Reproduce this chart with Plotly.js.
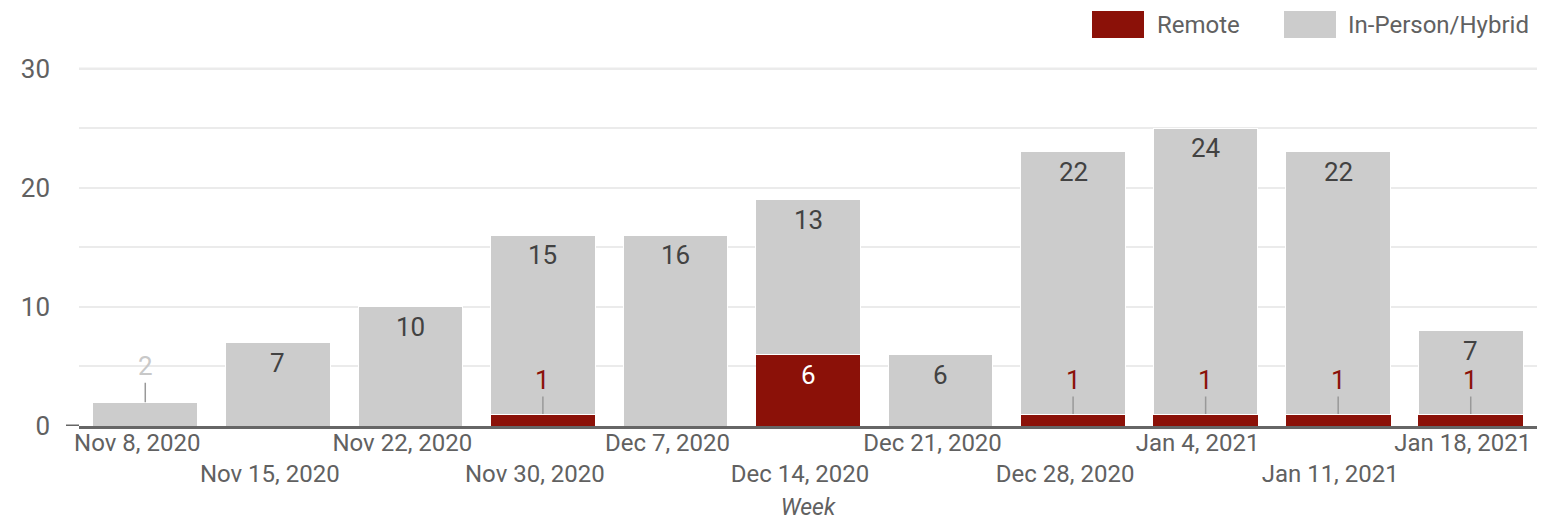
<!DOCTYPE html>
<html>
<head>
<meta charset="utf-8">
<script src="https://cdn.plot.ly/plotly-3.0.1.min.js"></script>
<style>html,body{margin:0;padding:0;background:#fff;}#chart{width:1546px;height:521px;}</style>
</head>
<body>
<div id="chart"></div>
<script>
const weeks = ['Nov 8, 2020','Nov 15, 2020','Nov 22, 2020','Nov 30, 2020','Dec 7, 2020','Dec 14, 2020','Dec 21, 2020','Dec 28, 2020','Jan 4, 2021','Jan 11, 2021','Jan 18, 2021'];
const remote = [0,0,0,1,0,6,0,1,1,1,1];
const inPerson = [2,7,10,15,16,13,6,22,24,22,7];
const seriesNames = ['Remote','In-Person/Hybrid'];
const yTicks = [0,10,20,30];

const REMOTE_COLOR = '#8b1108';
const INPERSON_COLOR = '#cccccc';
const FONT = 'Roboto, "Noto Sans", sans-serif';

const traces = [
  {type:'bar', name:seriesNames[0], x:weeks, y:remote, marker:{color:REMOTE_COLOR, line:{width:0}}, hoverinfo:'none', showlegend:false},
  {type:'bar', name:seriesNames[1], x:weeks, y:inPerson, marker:{color:INPERSON_COLOR, line:{color:'#ffffff', width:1}}, hoverinfo:'none', showlegend:false}
];

const annotations = [];
weeks.forEach((w,i) => {
  const r = remote[i], p = inPerson[i];
  if (r > 0) {
    if (r >= 3) {
      annotations.push({x:w, y:r, xref:'x', yref:'y', text:String(r), showarrow:false, yanchor:'top', yshift:-3, font:{family:FONT, size:26, color:'#ffffff'}});
    } else {
      annotations.push({x:w, y:r, xref:'x', yref:'y', text:String(r), showarrow:true, arrowhead:0, arrowwidth:1.5, arrowcolor:'#999999', ax:0, ay:-34, standoff:0, font:{family:FONT, size:26, color:REMOTE_COLOR}});
    }
  }
  if (p > 0) {
    const top = r + p;
    if (p >= 3) {
      annotations.push({x:w, y:top, xref:'x', yref:'y', text:String(p), showarrow:false, yanchor:'top', yshift:-3, font:{family:FONT, size:26, color:'#424242'}});
    } else {
      annotations.push({x:w, y:top, xref:'x', yref:'y', text:String(p), showarrow:true, arrowhead:0, arrowwidth:1.5, arrowcolor:'#999999', ax:0, ay:-36, standoff:0, font:{family:FONT, size:26, color:'#c8c8c8'}});
    }
  }
});

// custom legend (top right)
const legendItems = [
  {name:seriesNames[0], color:REMOTE_COLOR, sx:-445, tx:-382},
  {name:seriesNames[1], color:INPERSON_COLOR, sx:-253, tx:-191}
];
const shapes = [];
legendItems.forEach(it => {
  shapes.push({type:'rect', xref:'paper', yref:'paper', xsizemode:'pixel', ysizemode:'pixel', xanchor:1, yanchor:1,
    x0:it.sx, x1:it.sx+52, y0:27, y1:54, fillcolor:it.color, line:{width:0}});
  annotations.push({xref:'paper', yref:'paper', x:1, y:1, xshift:it.tx, yshift:40, xanchor:'left', yanchor:'middle', showarrow:false,
    text:it.name, font:{family:FONT, size:24, color:'#616161'}});
});
// baseline extends slightly left of the plot area
shapes.push({type:'line', xref:'paper', yref:'y', xsizemode:'pixel', xanchor:0, x0:-13, x1:0, y0:0, y1:0, line:{color:'#666666', width:3}});
// top gridline at the last tick
shapes.push({type:'line', xref:'paper', yref:'y', x0:0, x1:1, y0:yTicks[yTicks.length-1], y1:yTicks[yTicks.length-1], line:{color:'#ebebeb', width:2}, layer:'below'});

const layout = {
  width:1546, height:521,
  margin:{l:79, r:9, t:65, b:95, pad:0},
  paper_bgcolor:'#ffffff', plot_bgcolor:'#ffffff',
  barmode:'stack', bargap:0.21,
  font:{family:FONT, color:'#616161'},
  xaxis:{
    type:'category',
    tickvals:weeks,
    ticktext:weeks.map((w,i) => i % 2 ? '<br>' + w : w),
    tickfont:{family:FONT, size:24, color:'#616161'},
    tickangle:0,
    ticks:'', showgrid:false, zeroline:false,
    showline:true, linecolor:'#666666', linewidth:3,
    ticklabelshift:-8,
    ticklabelstandoff:-7,
    automargin:false,
    title:{text:'<i>Week</i>', font:{family:FONT, size:23, color:'#616161'}, standoff:14}
  },
  yaxis:{
    range:[0,30.3],
    tickvals:yTicks, ticktext:yTicks.map(String),
    tickfont:{family:FONT, size:26, color:'#616161'},
    ticks:'', ticklabelstandoff:28,
    showgrid:true, gridcolor:'#ebebeb', gridwidth:2,
    minor:{dtick:5, showgrid:true, gridcolor:'#ebebeb', gridwidth:2, ticks:''},
    zeroline:false, showline:false,
    automargin:false
  },
  annotations:annotations,
  shapes:shapes,
  showlegend:false
};

Plotly.newPlot('chart', traces, layout, {displayModeBar:false, staticPlot:true});
</script>
</body>
</html>
